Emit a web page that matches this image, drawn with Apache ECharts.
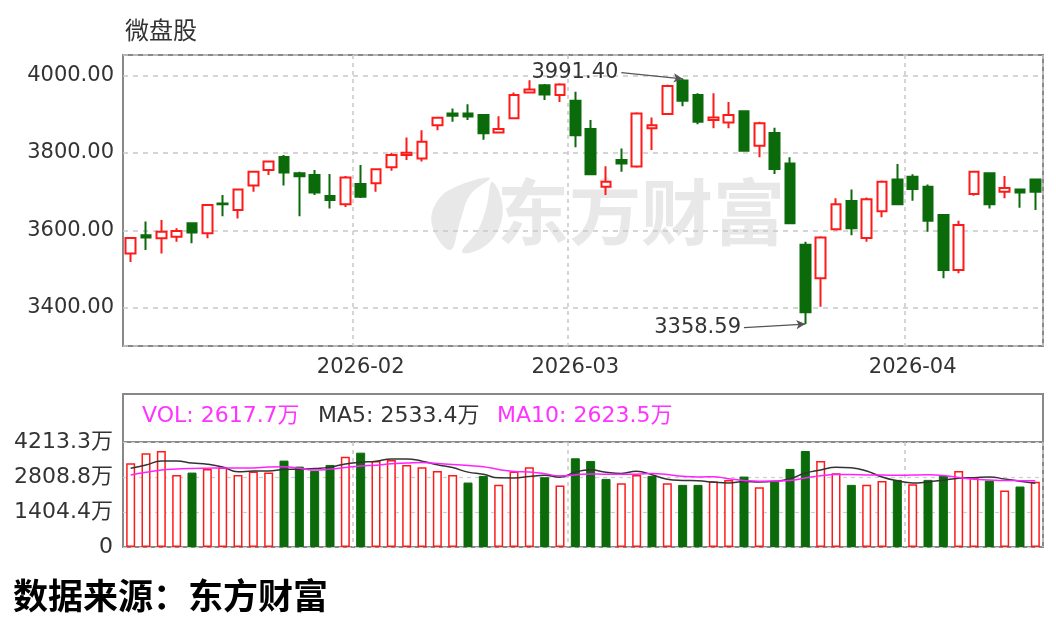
<!DOCTYPE html>
<html><head><meta charset="utf-8">
<script src="https://cdn.jsdelivr.net/npm/echarts@6/dist/echarts.min.js"></script>
<style>html,body{margin:0;padding:0;background:#fff}#c{width:1056px;height:634px}</style>
</head><body><div id="c"></div>
<script>
const dates = ['2026-01-12','2026-01-13','2026-01-14','2026-01-15','2026-01-16','2026-01-19','2026-01-20','2026-01-21','2026-01-22','2026-01-23','2026-01-26','2026-01-27','2026-01-28','2026-01-29','2026-01-30',
'2026-02-02','2026-02-03','2026-02-04','2026-02-05','2026-02-06','2026-02-09','2026-02-10','2026-02-11','2026-02-12','2026-02-13','2026-02-24','2026-02-25','2026-02-26','2026-02-27',
'2026-03-02','2026-03-03','2026-03-04','2026-03-05','2026-03-06','2026-03-09','2026-03-10','2026-03-11','2026-03-12','2026-03-13','2026-03-16','2026-03-17','2026-03-18','2026-03-19','2026-03-20','2026-03-23','2026-03-24','2026-03-25','2026-03-26','2026-03-27','2026-03-30','2026-03-31',
'2026-04-01','2026-04-02','2026-04-03','2026-04-07','2026-04-08','2026-04-09','2026-04-10','2026-04-13','2026-04-14'];
const opens  = [3541,3588,3580,3584,3619,3593,3670,3653,3716,3756,3790,3748,3743,3689,3668,3720,3722,3763,3795,3786,3872,3902,3902,3898,3853,3890,3956,3975,3950,3935,3862,3713,3782,3765,3864,3901,3987,3950,3885,3879,3908,3819,3852,3773,3563,3477,3603,3676,3581,3650,3732,3739,3713,3640,3498,3694,3748,3700,3706,3732];
const closes = [3581,3582,3597,3599,3595,3666,3668,3706,3752,3778,3750,3740,3698,3679,3737,3687,3758,3795,3801,3829,3891,3896,3894,3851,3862,3950,3964,3951,3977,3846,3745,3726,3773,3902,3872,3973,3935,3881,3892,3898,3806,3877,3759,3619,3389,3582,3668,3606,3681,3726,3668,3707,3625,3498,3614,3752,3668,3710,3698,3700];
const lows   = [3519,3550,3541,3571,3567,3580,3637,3631,3700,3743,3716,3637,3692,3657,3661,3684,3700,3754,3782,3778,3859,3881,3885,3834,3851,3888,3954,3937,3932,3815,3743,3692,3752,3762,3808,3899,3921,3874,3864,3864,3804,3789,3746,3617,3358.59,3403,3600,3588,3571,3634,3666,3677,3597,3477,3490,3690,3657,3683,3659,3653];
const highs  = [3583,3623,3627,3606,3621,3668,3692,3708,3754,3780,3795,3752,3756,3746,3741,3769,3760,3801,3840,3859,3893,3915,3926,3900,3895,3956,3988,3978,3980,3958,3885,3766,3812,3905,3892,3976,3991.40,3954,3954,3932,3910,3881,3865,3789,3571,3585,3683,3706,3685,3729,3772,3745,3719,3642,3625,3754,3750,3741,3707,3733];
const volumes = [3360,3759,3853,2893,2986,3133,3186,2893,3026,2986,3466,3226,3053,3293,3626,3786,3453,3493,3293,3199,3053,2893,2586,2853,2493,3026,3199,2800,2466,3559,3453,2733,2560,2893,2853,2560,2493,2493,2626,2693,2826,2400,2626,3133,3853,3453,2960,2493,2493,2653,2693,2520,2693,2853,3053,2800,2666,2266,2426,2617.7];
const ma5Head  = [3160,3290,3450,3450];
const ma10Head = [2890,3000,3090,3130,3150,3160,3170,3170,3170];
const priceTicks = [3400,3600,3800,4000];
const volTickLabels = ['0','1404.4万','2808.8万','4213.3万'];
const volMax = 4213.3;
const chartTitle = '微盘股';
const legendVol = 'VOL: 2617.7万', legendMA5 = 'MA5: 2533.4万', legendMA10 = 'MA10: 2623.5万';
const sourceText = '数据来源：东方财富';
const watermark = '东方财富';

const UP = '#ff1a1a', DOWN = '#0b6b0b';
const FONT = 'DejaVu Sans, Noto Sans CJK SC, sans-serif';

const kData = dates.map((d,i)=>[opens[i],closes[i],lows[i],highs[i]]);
const volData = volumes.map((v,i)=>{
  const prev = i>0 ? closes[i-1] : opens[i];
  const up = closes[i] >= prev;
  return {value:v, itemStyle: up ? {color:'#fff', borderColor:UP, borderWidth:1.5} : {color:DOWN, borderColor:DOWN, borderWidth:1}};
});
function ma(n, head){
  return volumes.map((v,i)=>{
    if(i < n-1) return head[i];
    let s=0; for(let k=i-n+1;k<=i;k++) s+=volumes[k];
    return +(s/n).toFixed(1);
  });
}
const ma5 = ma(5, ma5Head), ma10 = ma(10, ma10Head);
const isMonthStart = (idx)=> idx>0 && dates[idx-1].slice(0,7)!==dates[idx].slice(0,7);

let hiIdx=0, loIdx=0;
highs.forEach((h,i)=>{ if(h>highs[hiIdx]) hiIdx=i; });
lows.forEach((l,i)=>{ if(l<lows[loIdx]) loIdx=i; });

const chart = echarts.init(document.getElementById('c'), null, {renderer:'canvas'});
chart.setOption({
  animation:false,
  backgroundColor:'#fff',
  title:{text:chartTitle, left:120, top:16, textStyle:{fontFamily:FONT, fontSize:24, fontWeight:'normal', color:'#333'}},
  grid:[
    {left:123, right:13, top:55, height:291, show:true, borderColor:'#888', borderWidth:2, backgroundColor:'transparent'},
    {left:123, right:13, top:442, height:105, show:true, borderColor:'#888', borderWidth:2, backgroundColor:'transparent'}
  ],
  xAxis:[
    {type:'category', gridIndex:0, data:dates, boundaryGap:true,
     axisLine:{show:false}, axisTick:{show:false},
     axisLabel:{interval:(i)=>isMonthStart(i), formatter:(v)=>v.slice(0,7), fontFamily:FONT, fontSize:21, color:'#333', margin:11},
     splitLine:{show:true, interval:(i)=>isMonthStart(i), lineStyle:{type:[4,4], color:'#c8c8c8', width:1.5}}},
    {type:'category', gridIndex:1, data:dates, boundaryGap:true,
     axisLine:{show:false}, axisTick:{show:false}, axisLabel:{show:false},
     splitLine:{show:true, interval:(i)=>isMonthStart(i), lineStyle:{type:[4,4], color:'#c8c8c8', width:1.5}}}
  ],
  yAxis:[
    {type:'value', gridIndex:0, min:3302, max:4053, splitNumber:4, scale:true,
     axisLine:{show:false}, axisTick:{show:false},
     axisLabel:{showMinLabel:false, showMaxLabel:false, fontFamily:FONT, fontSize:21, color:'#333', margin:9,
       formatter:(v)=> priceTicks.indexOf(Math.round(v))>=0 ? v.toFixed(2) : ''},
     splitLine:{show:true, lineStyle:{type:[5,5], color:'#c8c8c8', width:1.5}}},
    {type:'value', gridIndex:1, min:0, max:volMax, interval:volMax/3,
     axisLine:{show:false}, axisTick:{show:false},
     axisLabel:{fontFamily:FONT, fontSize:22, color:'#333', margin:10,
       formatter:(v)=> volTickLabels[Math.round(v/(volMax/3))] || ''},
     splitLine:{show:true, lineStyle:{type:[4,4], color:'#cfcfcf', width:1.2}}}
  ],
  series:[
    {type:'candlestick', xAxisIndex:0, yAxisIndex:0, data:kData, barWidth:10,
     itemStyle:{color:'#fff', color0:DOWN, borderColor:UP, borderColor0:DOWN, borderWidth:2},
     markLine:{silent:true, symbol:['none','arrow'], symbolSize:[7,9],
       lineStyle:{color:'#555', width:1.3, type:'solid'},
       label:{show:true, position:'start', distance:3, fontFamily:FONT, fontSize:21, color:'#333'},
       data:[
         [{coord:[hiIdx-4, highs[hiIdx]+16], label:{formatter:highs[hiIdx].toFixed(2)}}, {coord:[hiIdx, highs[hiIdx]]}],
         [{coord:[loIdx-4, lows[loIdx]-9], label:{formatter:lows[loIdx].toFixed(2)}}, {coord:[loIdx, lows[loIdx]]}]
       ]}},
    {type:'bar', xAxisIndex:1, yAxisIndex:1, data:volData, barWidth:9},
    {type:'line', xAxisIndex:1, yAxisIndex:1, data:ma5, smooth:true, symbol:'none', lineStyle:{color:'#333', width:1.5}},
    {type:'line', xAxisIndex:1, yAxisIndex:1, data:ma10, smooth:true, symbol:'none', lineStyle:{color:'#ff22ff', width:1.5}}
  ],
  graphic:[
    {type:'rect', z:0, silent:true, shape:{x:123, y:394, width:920, height:48}, style:{fill:'none', stroke:'#888', lineWidth:2}},
    {type:'text', x:142, y:405, style:{text:legendVol, font:'22px '+FONT, fill:'#ff33ff'}},
    {type:'text', x:318, y:405, style:{text:legendMA5, font:'22px '+FONT, fill:'#333'}},
    {type:'text', x:497, y:405, style:{text:legendMA10, font:'22px '+FONT, fill:'#ff33ff'}},
    {type:'text', x:13, y:578, style:{text:sourceText, font:'bold 35px "Noto Sans CJK SC", sans-serif', fill:'#000'}},
    {type:'text', z:-1, x:497, y:176, silent:true, style:{text:watermark, font:'bold 72px "Noto Sans CJK SC", sans-serif', fill:'#e8e8e8'}},
    {type:'polygon', z:-1, silent:true, shape:{smooth:0.4, points:[[450,250],[432,225],[438,200],[460,185],[490,178],[470,195],[460,222]]}, style:{fill:'#e8e8e8'}},
    {type:'polygon', z:-1, silent:true, shape:{smooth:0.4, points:[[462,252],[478,230],[487,205],[492,182],[502,202],[499,228],[482,248]]}, style:{fill:'#e8e8e8'}}
  ]
});
</script></body></html>
